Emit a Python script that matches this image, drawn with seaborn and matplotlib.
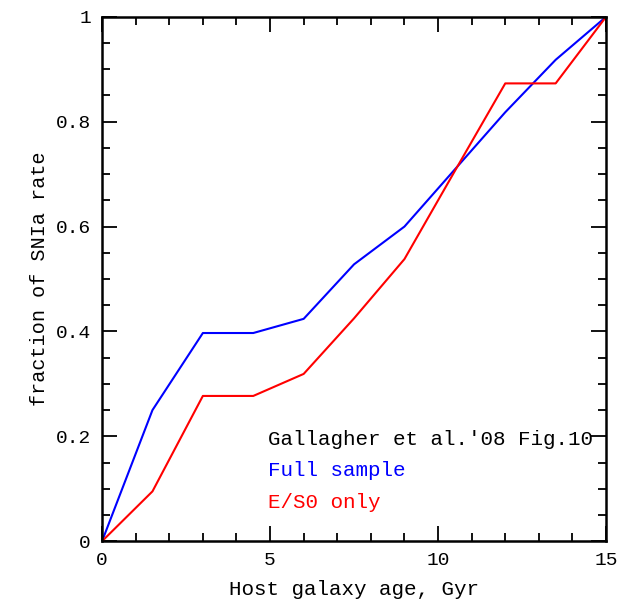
import matplotlib
matplotlib.use("Agg")
import matplotlib.pyplot as plt
from matplotlib.ticker import MultipleLocator
import seaborn as sns
import pandas as pd

age = [0, 1.5, 3, 4.5, 6, 7.5, 9, 10.5, 12, 13.5, 15]
full_sample = [0, 0.25, 0.397, 0.397, 0.424, 0.528, 0.60, 0.709, 0.818, 0.918, 1.0]
es0_only = [0, 0.095, 0.277, 0.277, 0.319, 0.425, 0.538, 0.706, 0.873, 0.873, 1.0]

sns.set_style("ticks")
plt.rcParams['font.family'] = ['Liberation Mono', 'DejaVu Serif']

fig = plt.figure(figsize=(6.3, 6.0), dpi=100)
ax = fig.add_axes([0.162, 0.098, 0.800, 0.874])

df = pd.DataFrame({"age": age, "full": full_sample, "es0": es0_only})
sns.lineplot(data=df, x="age", y="full", color="#0000ff", lw=1.5, ax=ax, estimator=None)
sns.lineplot(data=df, x="age", y="es0", color="#ff0000", lw=1.5, ax=ax, estimator=None)

ax.set_xlim(0, 15)
ax.set_ylim(0, 1)
ax.xaxis.set_major_locator(MultipleLocator(5))
ax.xaxis.set_minor_locator(MultipleLocator(1))
ax.yaxis.set_major_locator(MultipleLocator(0.2))
ax.yaxis.set_minor_locator(MultipleLocator(0.05))
ax.set_xticks([0, 5, 10, 15])
ax.set_xticklabels(["0", "5", "10", "15"])
ax.set_yticks([0, 0.2, 0.4, 0.6, 0.8, 1])
ax.set_yticklabels(["0", "0.2", "0.4", "0.6", "0.8", "1"])
ax.tick_params(which="both", direction="in", top=True, right=True, width=1.3,
               labelsize=14, pad=8, color="black", labelcolor="black")
ax.tick_params(which="major", length=11)
ax.tick_params(which="minor", length=5.5)
for s in ax.spines.values():
    s.set_linewidth(1.8)
    s.set_color("black")
    s.set_visible(True)

ax.set_xlabel("Host galaxy age, Gyr", fontsize=15, labelpad=8, color="black")
ax.set_ylabel("fraction of SNIa rate", fontsize=14.5, labelpad=5, color="black")

ax.text(4.95, 0.193, "Gallagher et al.'08 Fig.10", color="black", fontsize=15, va="center")
ax.text(4.95, 0.134, "Full sample", color="#0000ff", fontsize=15, va="center")
ax.text(4.95, 0.073, "E/S0 only", color="#ff0000", fontsize=15, va="center")

fig.savefig("out.png", dpi=100)
